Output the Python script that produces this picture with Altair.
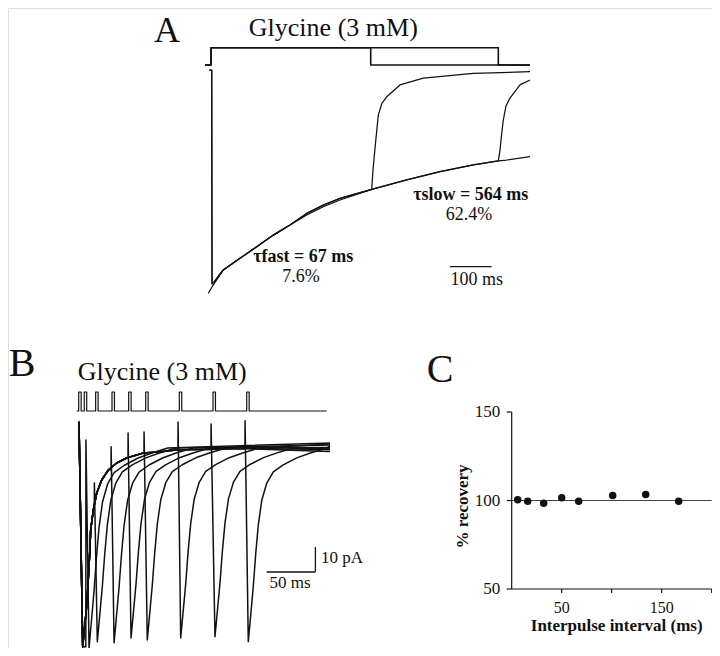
import altair as alt
import pandas as pd

FONT = "Liberation Serif"
INK = "#111111"

# ---------------- Panel A (time in ms, current normalised to peak) ----------------
A_fit_t = [-6.5, 2.4, 29.5, 69.5, 109.6, 149.4, 189.4, 229.5, 269.3, 309.4, 385.4, 469.3, 549.2, 629.0, 689.0, 709.0, 765.0]
A_fit_I = [-0.992, -0.964, -0.888, -0.836, -0.784, -0.732, -0.687, -0.642, -0.605, -0.575, -0.527, -0.485, -0.448, -0.418, -0.400, -0.396, -0.381]

A_onset_t = [-4.0, 1.7, 2.5, 8.0, 18.0]
A_onset_I = [0.006, 0.006, -0.95, -0.94, -0.915]
A_dec_t = [29.5, 69.5, 109.6, 149.4, 189.4, 229.5, 269.3, 309.4, 385.4]
A_dec_I = [-0.888, -0.836, -0.784, -0.732, -0.687, -0.635, -0.598, -0.568, -0.527]
A_dec2_t = [469.3, 549.2, 629.0, 689.0]
A_dec2_I = [-0.485, -0.448, -0.418, -0.400]

A_short_rec_t = [388.5, 393.3, 401.2, 410.1, 421.3, 453.2, 509.1, 629.0, 765.0]
A_short_rec_I = [-0.441, -0.343, -0.195, -0.141, -0.113, -0.060, -0.030, -0.008, -0.001]
A_long_rec_t = [693.1, 696.7, 701.0, 707.4, 717.0, 741.0, 765.0]
A_long_rec_I = [-0.351, -0.284, -0.217, -0.154, -0.119, -0.060, -0.038]

A_cmd_long_t = [-14.4, 0, 0, 689, 689, 765]
A_cmd_short_t = [-14.4, 0, 0, 383, 383, 765]
A_cmd_v = [0, 0, 1, 1, 0, 0]

# ---------------- Panel B (time in ms, current in pA) ----------------
B_pulse_start = [-0.3, 5.4, 17.1, 33.9, 51.0, 68.5, 103.0, 137.6, 172.2]
B_pulse_width = 2.5
B_pulse_span = [-2.4, 254.3]

B_cond_art_top = 10.1
B_cond_peak_t = 3.8
B_cond_dt = [0, 4.4, 7.2, 8.2, 10.9, 14.4, 19.5, 26.3, 34.9, 45.2, 62.2, 79.4, 96.5, 125.0, 160.0]
B_cond_I = [-79.9, -62.4, -42.4, -33.2, -25.2, -18.4, -13.2, -9.2, -6.4, -4.4, -2.4, -1.9, -1.2, -1.0, -0.8]

B_test_art_t = [7.0, 15.7, 32.9, 50.3, 66.7, 101.6, 135.5, 170.4]
B_test_art_top = [2.8, -14.4, 0.1, 5.6, 6.0, 10.0, 9.2, 10.5]
B_test_peak_t = [10.3, 18.8, 36.0, 53.4, 70.1, 104.4, 139.6, 173.8]
B_test_peak_I = [-80.4, -77.9, -78.3, -76.4, -77.2, -76.4, -75.9, -77.9]
B_test_dt = [0, 2.05, 5.1, 7.7, 10.3, 13.9, 19.0, 25.7, 35.9, 49.8, 63.7, 80.8]
B_test_frac = [1.0, 0.888, 0.719, 0.544, 0.4, 0.272, 0.185, 0.128, 0.092, 0.056, 0.031, 0.005]
B_end_t = 257.7
B_tail_I = [1.6, 0.8, -0.2, -1.0, -1.8, 1.2, -0.6, 0.4]

# ---------------- Panel C ----------------
C_interval = [6, 16, 32, 50, 67, 101, 134, 167]
C_recovery = [100.4, 99.6, 98.5, 101.5, 99.6, 102.8, 103.4, 99.6]
C_yticks = [50, 100, 150]
C_xticks = [50, 100, 150, 200]
C_xticklabels = [50, 150]


def scale(domain, rng):
    return alt.Scale(domain=domain, range=rng, nice=False, zero=False)


AX = scale([0, 1000], [203, 620])
AY = scale([-1, 0], [287, 63.5])
ACMD = scale([0, 1], [57, 39.7])
BX = scale([0, 300], [71, 363.2])
BY = scale([-80, 20], [639, 389])
BPUL = scale([0, 1], [403, 384])
CX = scale([0, 200], [503.7, 703.7])
CY = scale([50, 150], [581, 404])


def trace_df(traces):
    rows = []
    for name, ts, vs in traces:
        for k, (t, v) in enumerate(zip(ts, vs)):
            rows.append({"trace": name, "seq": k, "t": t, "v": v})
    return pd.DataFrame(rows)


def lines(df, xs, ys, width=1.2, color=INK):
    return alt.Chart(df).mark_line(color=color, strokeWidth=width, strokeJoin="round").encode(
        x=alt.X("t:Q", scale=xs, axis=None),
        y=alt.Y("v:Q", scale=ys, axis=None),
        detail="trace:N",
        order="seq:Q",
    )


def segs(rows, xs, ys, width=1.2, color=INK):
    df = pd.DataFrame(rows, columns=["x0", "x1", "y0", "y1"])
    return alt.Chart(df).mark_rule(color=color, strokeWidth=width).encode(
        x=alt.X("x0:Q", scale=xs, axis=None), x2="x1:Q",
        y=alt.Y("y0:Q", scale=ys, axis=None), y2="y1:Q",
    )


def texts(rows, xs, ys, size, align="center", baseline="alphabetic", weight="normal", angle=0):
    df = pd.DataFrame(rows, columns=["x", "y", "label"])
    return alt.Chart(df).mark_text(
        font=FONT, fontSize=size, align=align, baseline=baseline,
        fontWeight=weight, angle=angle, color=INK,
    ).encode(
        x=alt.X("x:Q", scale=xs, axis=None),
        y=alt.Y("y:Q", scale=ys, axis=None),
        text="label:N",
    )


layers = []

# ---- Panel A ----
cmd_df = trace_df([("long", A_cmd_long_t, A_cmd_v), ("short", A_cmd_short_t, A_cmd_v)])
layers.append(lines(cmd_df, AX, ACMD, width=1.6))

short_t = A_onset_t + A_dec_t + A_short_rec_t
short_I = A_onset_I + A_dec_I + A_short_rec_I
long_t = A_onset_t + A_dec_t + A_dec2_t + A_long_rec_t
long_I = A_onset_I + A_dec_I + A_dec2_I + A_long_rec_I
a_df = trace_df([("fit", A_fit_t, A_fit_I), ("short", short_t, short_I), ("long", long_t, long_I)])
layers.append(lines(a_df, AX, AY, width=1.25))

layers.append(segs([[573, 673, -0.873, -0.873]], AX, AY, width=1.3))
layers.append(texts([[-105.5, 0.132, "A"]], AX, AY, 36))
layers.append(texts([[293.3, 0.159, "Glycine (3 mM)"]], AX, AY, 26))
layers.append(texts([[221.3, -0.851, "\u03c4fast = 67 ms"], [623.0, -0.575, "\u03c4slow = 564 ms"]], AX, AY, 18, weight="bold"))
layers.append(texts([[215.8, -0.940, "7.6%"], [618.7, -0.664, "62.4%"], [637.2, -0.955, "100 ms"]], AX, AY, 18))

# ---- Panel B ----
pul_t, pul_v = [B_pulse_span[0]], [0]
for s in B_pulse_start:
    pul_t += [s, s, s + B_pulse_width, s + B_pulse_width]
    pul_v += [0, 1, 1, 0]
pul_t.append(B_pulse_span[1])
pul_v.append(0)
layers.append(lines(trace_df([("pulse", pul_t, pul_v)]), BX, BPUL, width=1.2))

b_traces = []
for i in range(len(B_test_art_t)):
    ts, vs = [0.0], [B_cond_art_top]
    for dt, v in zip(B_cond_dt, B_cond_I):
        if B_cond_peak_t + dt < B_test_art_t[i]:
            ts.append(B_cond_peak_t + dt)
            vs.append(v)
    # hold the last recorded level until the artefact of the test pulse
    ts.append(B_test_art_t[i])
    vs.append(vs[-1])
    ts.append(B_test_art_t[i] + 0.1)
    vs.append(B_test_art_top[i])
    for dt, f in zip(B_test_dt, B_test_frac):
        ts.append(B_test_peak_t[i] + dt)
        vs.append(B_test_peak_I[i] * f)
    ts.append(B_end_t)
    vs.append(B_tail_I[i])
    b_traces.append((f"trace{i}", ts, vs))
layers.append(lines(trace_df(b_traces), BX, BY, width=1.5))

layers.append(segs([[192.7, 242.7, -50, -50], [242.7, 242.7, -50, -40]], BX, BY, width=1.3))
layers.append(texts([[-58.5, 28.4, "B"]], BX, BY, 40))
layers.append(texts([[85.4, 27.0, "Glycine (3 mM)"]], BX, BY, 26))
layers.append(texts([[248.5, -46.5, "10 pA"]], BX, BY, 17, align="left"))
layers.append(texts([[216.6, -56.5, "50 ms"]], BX, BY, 17))

# ---- Panel C ----
c_axes = [[0, 0, 50, 150], [0, 200, 50, 50]]
c_axes += [[-5, 0, v, v] for v in C_yticks]
c_axes += [[v, v, 50, 47.7] for v in C_xticks]
layers.append(segs(c_axes, CX, CY, width=1.2))
layers.append(segs([[0, 200, 100, 100]], CX, CY, width=1.0, color="#444444"))
pts = pd.DataFrame({"interval": C_interval, "recovery": C_recovery})
layers.append(alt.Chart(pts).mark_circle(size=56, color=INK, opacity=1).encode(
    x=alt.X("interval:Q", scale=CX, axis=None),
    y=alt.Y("recovery:Q", scale=CY, axis=None),
))
layers.append(texts([[-11.5, v, str(v)] for v in C_yticks], CX, CY, 17, align="right", baseline="middle"))
layers.append(texts([[v, 36.6, str(v)] for v in C_xticklabels], CX, CY, 16))
layers.append(texts([[105.0, 26.0, "Interpulse interval (ms)"]], CX, CY, 17, weight="bold"))
layers.append(texts([[-49.2, 96.6, "% recovery"]], CX, CY, 17, baseline="middle", weight="bold", angle=270))
layers.append(texts([[-71.7, 166.7, "C"]], CX, CY, 40))

chart = alt.layer(*layers).resolve_scale(x="independent", y="independent").properties(
    width=704, height=640, autosize="none", padding=0
).configure_view(stroke=None).configure(background="white")

chart.save("out.html", embed_options={"renderer": "svg", "actions": False})
